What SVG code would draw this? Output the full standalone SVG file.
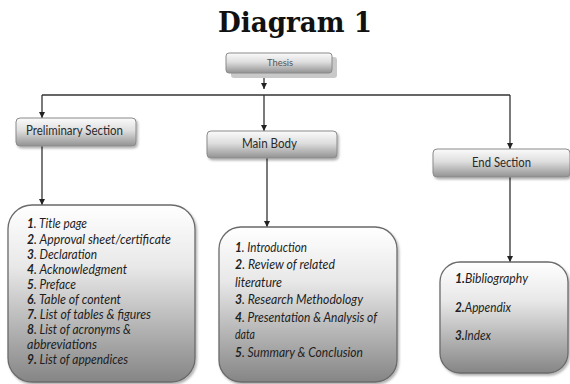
<svg xmlns="http://www.w3.org/2000/svg" width="570" height="384" viewBox="0 0 570 384">
<style>
.title{font-family:"DejaVu Serif","Liberation Serif",serif;font-weight:bold;font-size:27px;fill:#111}
.hdr{font-family:Lato,"Open Sans",sans-serif;font-size:12.5px;fill:#2a2a2a;text-anchor:middle}
.th{font-family:Lato,"Open Sans",sans-serif;font-size:9.5px;fill:#555;text-anchor:middle}
.hbox{fill:url(#hdr);stroke:#8a8a8a;stroke-width:1}
.lbox{fill:url(#lst);stroke:#6a6a6a;stroke-width:1.3}
.li{font-family:Lato,"Open Sans",sans-serif;font-size:12.5px;font-style:italic;fill:#1e1e1e}
.n{font-weight:bold}
.con{stroke:#333;stroke-width:1.3;fill:none}
</style>
<defs>
<linearGradient id="hdr" x1="0" y1="0" x2="0" y2="1">
<stop offset="0" stop-color="#fbfbfb"/>
<stop offset="0.45" stop-color="#dedede"/>
<stop offset="1" stop-color="#929292"/>
</linearGradient>
<linearGradient id="lst" x1="0" y1="0" x2="0" y2="1">
<stop offset="0" stop-color="#ffffff"/>
<stop offset="0.35" stop-color="#e8e8e8"/>
<stop offset="1" stop-color="#858585"/>
</linearGradient>
<filter id="sh" x="-10%" y="-10%" width="130%" height="150%">
<feDropShadow dx="1.5" dy="2" stdDeviation="1.2" flood-color="#000" flood-opacity="0.3"/>
</filter>
<marker id="ah" viewBox="0 0 8 8" refX="8" refY="4" markerWidth="6" markerHeight="6" orient="auto" markerUnits="userSpaceOnUse">
<path d="M0,0 L8,4 L0,8 z" fill="#222"/>
</marker>
</defs>
<rect width="570" height="384" fill="#ffffff"/>
<text class="title" x="218" y="32" textLength="154" lengthAdjust="spacingAndGlyphs">Diagram 1</text>

<g id="connectors">
<line class="con" x1="264" y1="78" x2="264" y2="89" marker-end="url(#ah)"/>
<line class="con" x1="42" y1="95" x2="510" y2="95"/>
<line class="con" x1="42" y1="95" x2="42" y2="118" marker-end="url(#ah)"/>
<line class="con" x1="264" y1="95" x2="264" y2="131" marker-end="url(#ah)"/>
<line class="con" x1="510" y1="95" x2="510" y2="149" marker-end="url(#ah)"/>
<line class="con" x1="42" y1="146" x2="42" y2="205" marker-end="url(#ah)"/>
<line class="con" x1="267" y1="158" x2="267" y2="227" marker-end="url(#ah)"/>
<line class="con" x1="510" y1="177" x2="510" y2="262" marker-end="url(#ah)"/>
</g>

<g id="thesis">
<rect x="231" y="57" width="106" height="21" rx="3" fill="#c9c9c9"/>
<rect class="hbox" x="226" y="53" width="106" height="20" rx="3"/>
<text class="th" x="280" y="66" textLength="26" lengthAdjust="spacingAndGlyphs">Thesis</text>
</g>

<g id="preliminary">
<rect class="hbox" x="16" y="118" width="120" height="28" rx="4" filter="url(#sh)"/>
<text class="hdr" x="74.5" y="135" textLength="97" lengthAdjust="spacingAndGlyphs">Preliminary Section</text>
</g>

<g id="mainbody">
<rect class="hbox" x="207" y="131" width="130" height="27" rx="4" filter="url(#sh)"/>
<text class="hdr" x="269.5" y="148" textLength="55" lengthAdjust="spacingAndGlyphs">Main Body</text>
</g>

<g id="endsection">
<rect class="hbox" x="433" y="149" width="137" height="28" rx="4" filter="url(#sh)"/>
<text class="hdr" x="501.5" y="167" textLength="59" lengthAdjust="spacingAndGlyphs">End Section</text>
</g>

<g id="prelim-list">
<rect class="lbox" x="8" y="205" width="187" height="177" rx="24" filter="url(#sh)"/>
<text class="li" x="27" y="228" textLength="60" lengthAdjust="spacingAndGlyphs"><tspan class="n">1</tspan>. Title page</text>
<text class="li" x="27" y="243.5" textLength="144" lengthAdjust="spacingAndGlyphs"><tspan class="n">2</tspan>. Approval sheet/certificate</text>
<text class="li" x="27" y="258.5" textLength="70" lengthAdjust="spacingAndGlyphs"><tspan class="n">3</tspan>. Declaration</text>
<text class="li" x="27" y="273.5" textLength="100" lengthAdjust="spacingAndGlyphs"><tspan class="n">4</tspan>. Acknowledgment</text>
<text class="li" x="27" y="288.5" textLength="49" lengthAdjust="spacingAndGlyphs"><tspan class="n">5</tspan>. Preface</text>
<text class="li" x="27" y="303.5" textLength="94" lengthAdjust="spacingAndGlyphs"><tspan class="n">6</tspan>. Table of content</text>
<text class="li" x="27" y="318.5" textLength="124" lengthAdjust="spacingAndGlyphs"><tspan class="n">7.</tspan> List of tables &amp; figures</text>
<text class="li" x="27" y="333.5" textLength="104" lengthAdjust="spacingAndGlyphs"><tspan class="n">8</tspan>. List of acronyms &amp;</text>
<text class="li" x="27" y="348.5" textLength="70" lengthAdjust="spacingAndGlyphs">abbreviations</text>
<text class="li" x="27" y="363.5" textLength="101" lengthAdjust="spacingAndGlyphs"><tspan class="n">9.</tspan> List of appendices</text>
</g>

<g id="main-list">
<rect class="lbox" x="219" y="227" width="178" height="155" rx="22" filter="url(#sh)"/>
<text class="li" x="235" y="251.5" textLength="72" lengthAdjust="spacingAndGlyphs"><tspan class="n">1</tspan>. Introduction</text>
<text class="li" x="235" y="269" textLength="100" lengthAdjust="spacingAndGlyphs"><tspan class="n">2</tspan>. Review of related</text>
<text class="li" x="235" y="286.5" textLength="47" lengthAdjust="spacingAndGlyphs">literature</text>
<text class="li" x="235" y="304" textLength="128" lengthAdjust="spacingAndGlyphs"><tspan class="n">3</tspan>. Research Methodology</text>
<text class="li" x="235" y="321.5" textLength="142" lengthAdjust="spacingAndGlyphs"><tspan class="n">4</tspan>. Presentation &amp; Analysis of</text>
<text class="li" x="235" y="339" textLength="20" lengthAdjust="spacingAndGlyphs">data</text>
<text class="li" x="235" y="356.5" textLength="128" lengthAdjust="spacingAndGlyphs"><tspan class="n">5</tspan>. Summary &amp; Conclusion</text>
</g>

<g id="end-list">
<rect class="lbox" x="440" y="262" width="128" height="111" rx="20" filter="url(#sh)"/>
<text class="li" x="455" y="283" textLength="73" lengthAdjust="spacingAndGlyphs"><tspan class="n">1.</tspan>Bibliography</text>
<text class="li" x="455" y="311.5" textLength="56" lengthAdjust="spacingAndGlyphs"><tspan class="n">2.</tspan>Appendix</text>
<text class="li" x="455" y="340" textLength="36" lengthAdjust="spacingAndGlyphs"><tspan class="n">3.</tspan>Index</text>
</g>
</svg>
